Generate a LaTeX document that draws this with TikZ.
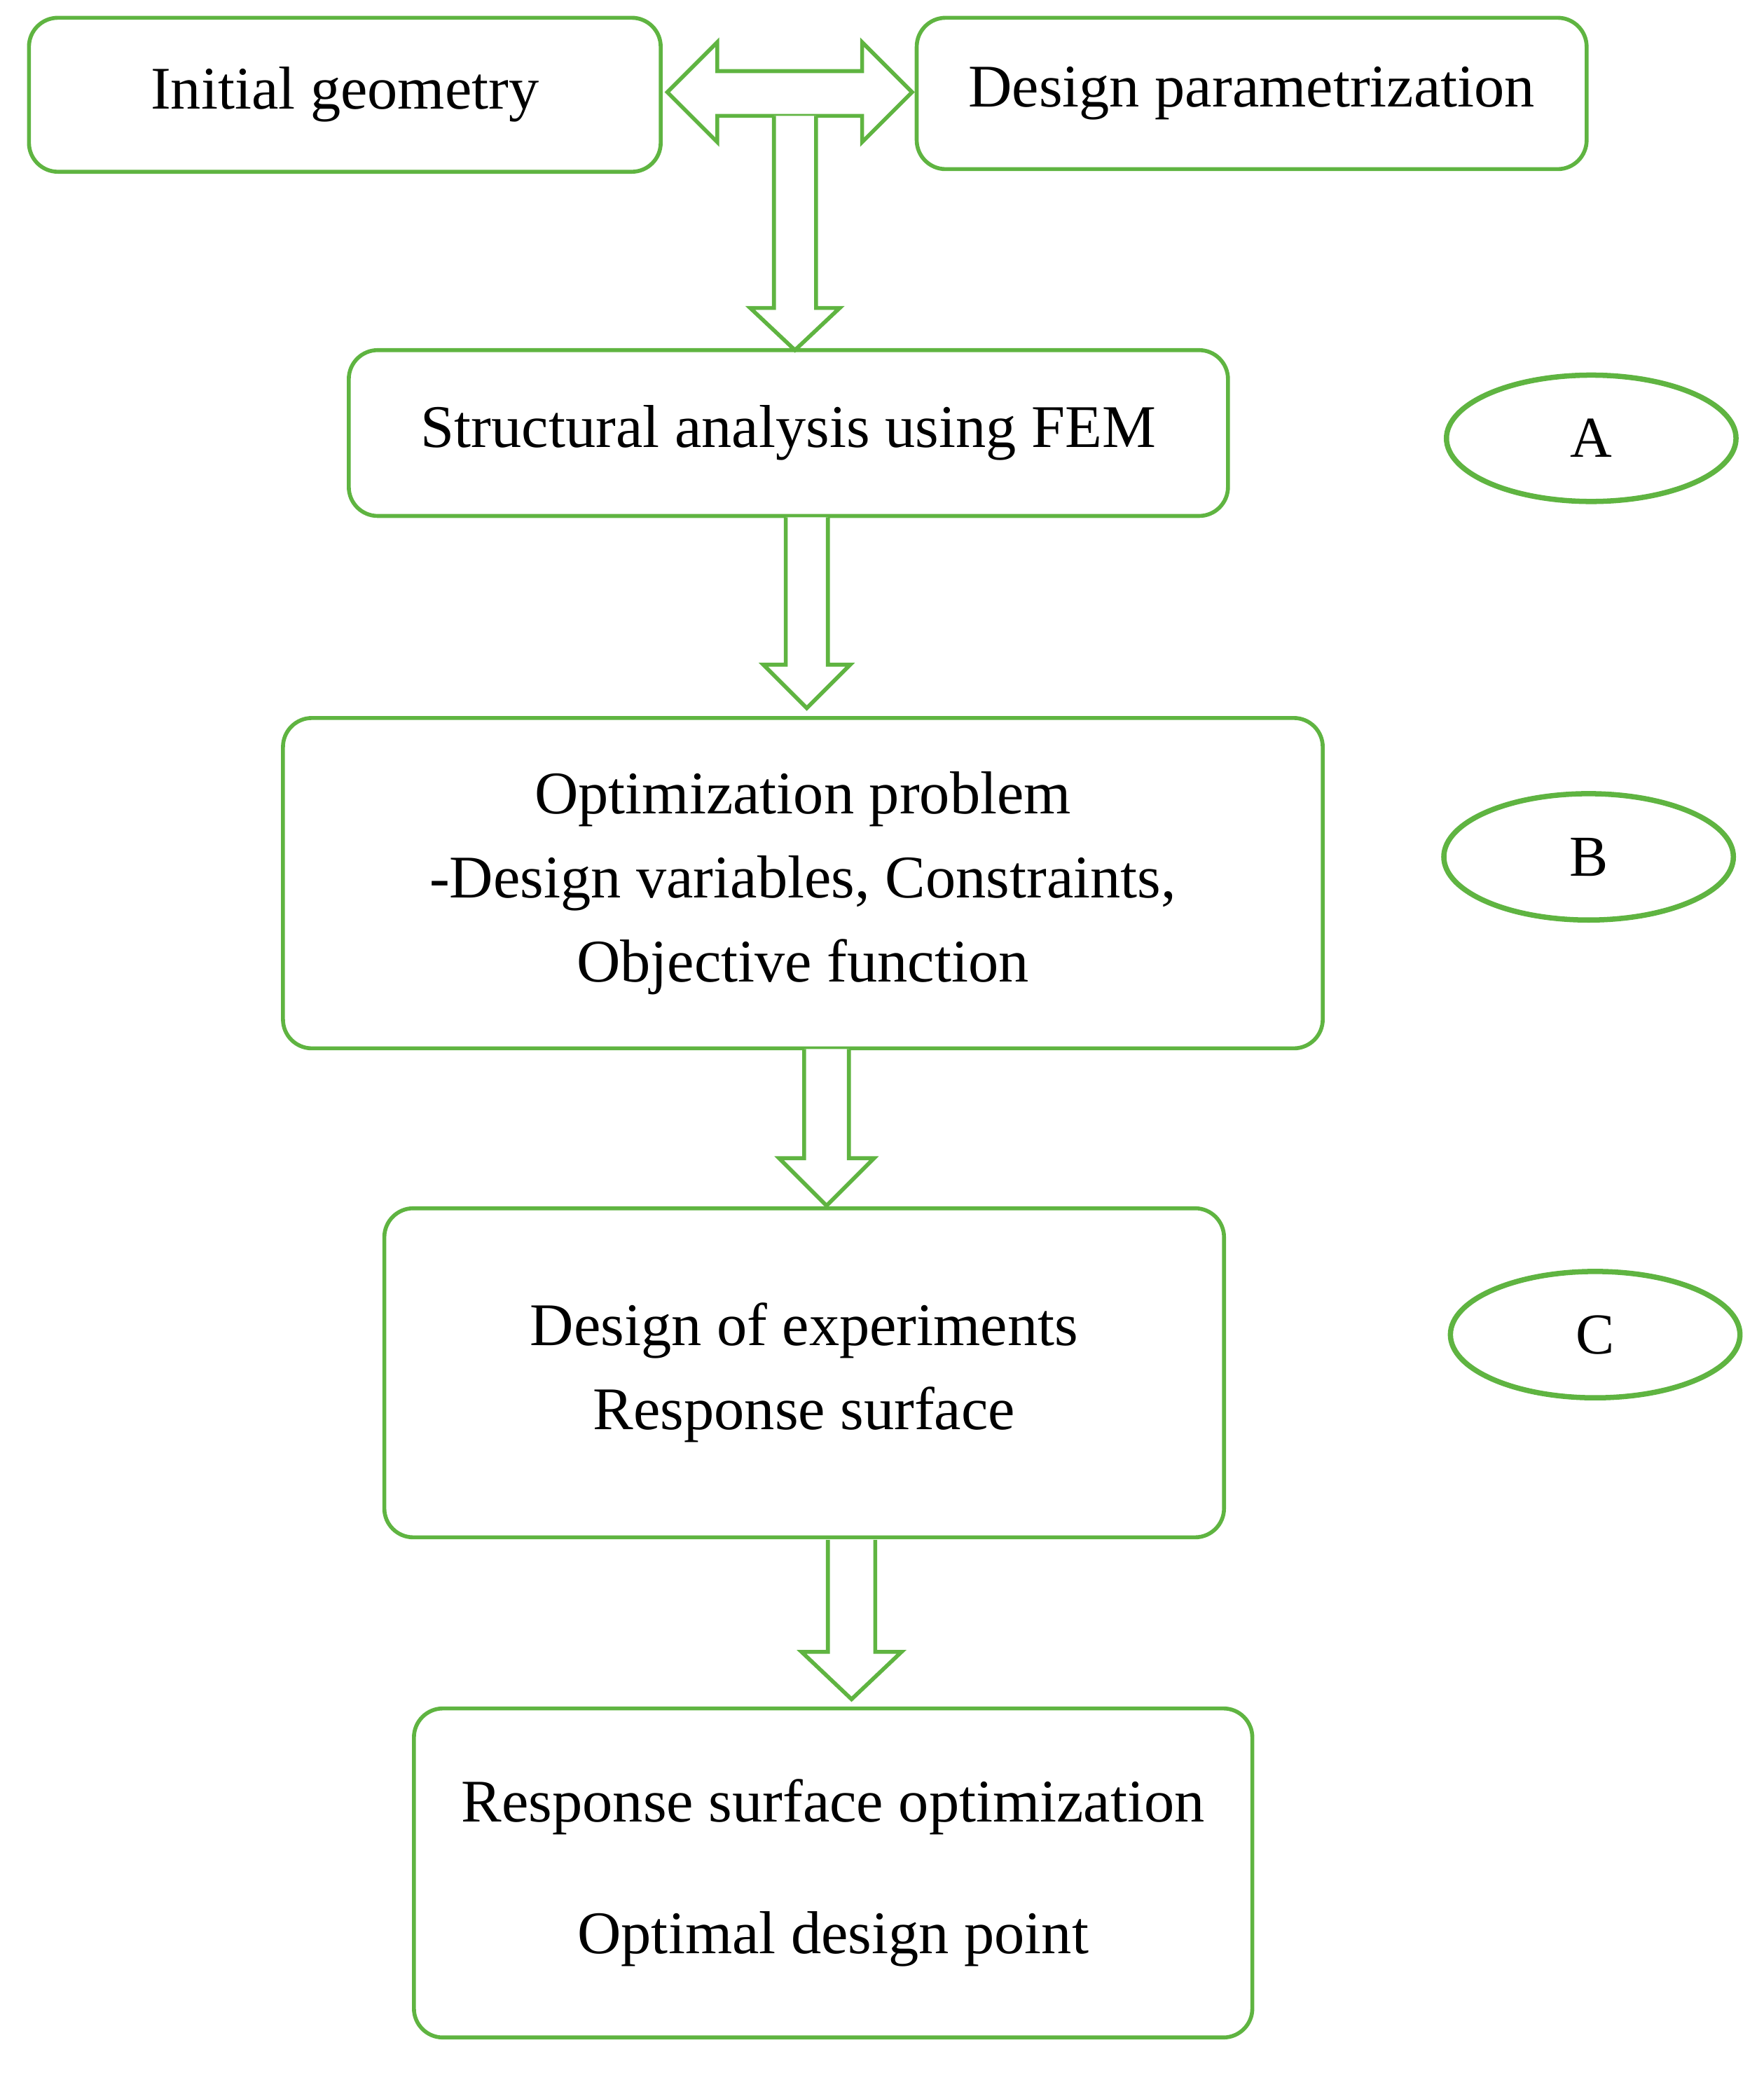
\documentclass[tikz,border=0pt]{standalone}
\usepackage{fontspec}
\setmainfont{Liberation Serif}
\usetikzlibrary{shapes.geometric}
\definecolor{gr}{RGB}{95,180,65}
\newcommand{\varr}[6]{% x, ytop, ytip, shaft half, head half, head len
 \draw[arr] (#1-#4,-#2) -- (#1-#4,-#3+#6) -- (#1-#5,-#3+#6) -- (#1,-#3) -- (#1+#5,-#3+#6) -- (#1+#4,-#3+#6) -- (#1+#4,-#2);}
\begin{document}
\begin{tikzpicture}[x=1pt,y=1pt,
 box/.style={draw=gr,line width=3pt,rounded corners=22pt,align=center,font=\fontsize{46}{64}\selectfont,inner sep=0pt},
 ell/.style={draw=gr,ellipse,line width=4pt,minimum width=220pt,minimum height=96pt,font=\fontsize{44}{50}\selectfont},
 arr/.style={draw=gr,line width=3pt,fill=white,line join=miter}]
\useasboundingbox (0,0) rectangle (1340,-1575);
\node[box,minimum width=480pt,minimum height=117pt] (ig) at (262,-72) {Initial geometry};
\node[box,minimum width=509pt,minimum height=115pt] (dp) at (951,-71) {Design parametrization};
\node[box,minimum width=668pt,minimum height=126pt] (sa) at (599,-329) {Structural analysis using FEM};
\node[box,minimum width=790pt,minimum height=251pt] (op) at (610,-671) {Optimization problem\\-Design variables, Constraints,\\Objective function};
\node[box,minimum width=638pt,minimum height=250pt] (de) at (611,-1043) {Design of experiments\\Response surface};
\node[box,minimum width=637pt,minimum height=250pt,font=\fontsize{46}{100}\selectfont] (rs) at (633,-1423) {Response surface optimization\\Optimal design point};
\node[ell] (A) at (1209,-333) {A};
\node[ell] (B) at (1207,-651) {B};
\node[ell] (C) at (1212,-1014) {C};
% horizontal double arrow
\draw[arr] (507,-70) -- (545,-32) -- (545,-54) -- (655,-54) -- (655,-32) -- (693,-70) -- (655,-108) -- (655,-88) -- (545,-88) -- (545,-108) -- cycle;
\varr{604}{88}{266}{16}{34}{32}
\varr{613}{393}{538}{16}{33}{33}
\varr{628}{797}{916}{17}{36}{36}
\varr{647}{1170}{1291}{18}{38}{36}
\end{tikzpicture}
\end{document}
